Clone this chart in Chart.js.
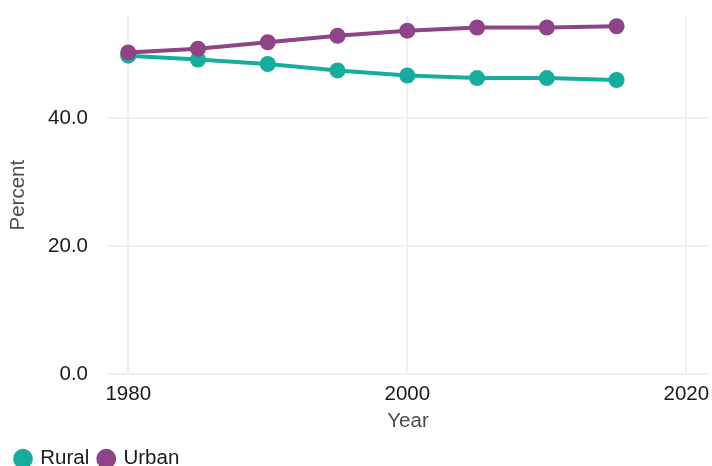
<!DOCTYPE html>
<html>
<head>
<meta charset="utf-8">
<script src="https://cdn.jsdelivr.net/npm/chart.js@4/dist/chart.umd.min.js"></script>
<style>
  html, body { margin: 0; padding: 0; background: #fff; }
  #wrap { width: 712px; height: 466px; }
</style>
</head>
<body>
<div id="wrap"><canvas id="chart" width="712" height="466"></canvas></div>
<script>
// data
const years = [1980, 1985, 1990, 1995, 2000, 2005, 2010, 2015];
const rural = [49.8, 49.2, 48.5, 47.5, 46.7, 46.3, 46.3, 46.0];
const urban = [50.3, 50.9, 51.9, 52.9, 53.7, 54.2, 54.2, 54.4];
const xTicks = [1980, 2000, 2020];
const yTicks = [0, 20, 40];

const ruralColor = '#15ae9e';
const urbanColor = '#8f4487';
const gridColor = '#f0f0f0';
const fontSize = 20.5;

Chart.defaults.font.family = '"Liberation Sans", Arial, sans-serif';
Chart.defaults.font.size = fontSize;

function toPoints(values) {
    return years.map((y, i) => ({ x: y, y: values[i] }));
}

function lineSet(label, values, color, order) {
    return {
        label: label,
        data: toPoints(values),
        borderColor: color,
        backgroundColor: color,
        pointBackgroundColor: color,
        pointBorderColor: color,
        pointRadius: 8,
        pointBorderWidth: 0,
        borderWidth: 4,
        tension: 0,
        order: order,
    };
}

// drop the label overflow padding so the plot area sits where it should
function noScalePadding(s) {
    s.paddingTop = 0;
    s.paddingBottom = 0;
    s.paddingLeft = 0;
    s.paddingRight = 0;
}

new Chart(document.getElementById('chart'), {
    type: 'line',
    data: {
        datasets: [
            lineSet('Rural', rural, ruralColor, 1),
            lineSet('Urban', urban, urbanColor, 0),
        ],
    },
    options: {
        responsive: false,
        animation: false,
        layout: { autoPadding: false, padding: { left: 6, right: 4, top: 16, bottom: -13 } },
        plugins: {
            tooltip: { enabled: false },
            legend: {
                position: 'bottom',
                align: 'start',
                labels: {
                    usePointStyle: true,
                    pointStyle: 'circle',
                    boxWidth: 14,
                    boxHeight: 14,
                    padding: 10,
                    color: '#1a1a1a',
                    font: { size: fontSize },
                    sort: (a, b) => a.datasetIndex - b.datasetIndex,
                },
            },
        },
        scales: {
            x: {
                type: 'linear',
                min: 1978.55,
                max: 2021.55,
                afterBuildTicks: s => { s.ticks = xTicks.map(v => ({ value: v })); },
                afterFit: noScalePadding,
                ticks: {
                    color: '#1a1a1a',
                    padding: 8,
                    maxRotation: 0,
                    callback: v => String(v),
                },
                grid: { color: gridColor, lineWidth: 2, drawTicks: false },
                border: { display: false },
                title: {
                    display: true,
                    text: 'Year',
                    color: '#4d4d4d',
                    font: { size: fontSize },
                    padding: { top: -6, bottom: 5 },
                },
            },
            y: {
                min: 0,
                max: 56,
                afterBuildTicks: s => { s.ticks = yTicks.map(v => ({ value: v })); },
                afterFit: s => { s.width = 102; noScalePadding(s); },
                ticks: {
                    color: '#1a1a1a',
                    padding: 20,
                    callback: v => v.toFixed(1),
                },
                grid: { color: gridColor, lineWidth: 2, drawTicks: false },
                border: { display: false },
                title: {
                    display: true,
                    text: 'Percent',
                    color: '#4d4d4d',
                    font: { size: fontSize },
                    padding: { top: 0, bottom: 0 },
                },
            },
        },
    },
});
</script>
</body>
</html>
